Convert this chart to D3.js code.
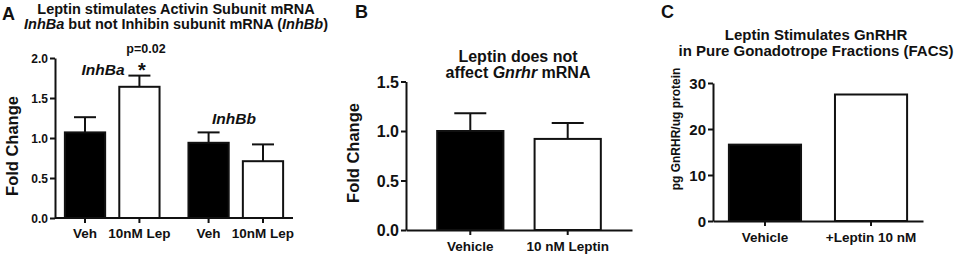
<!DOCTYPE html>
<html>
<head>
<meta charset="utf-8">
<script src="https://cdn.jsdelivr.net/npm/d3@7"></script>
<style>
  body { margin: 0; background: #fff; }
  svg text { font-family: "Liberation Sans", Arial, sans-serif; font-weight: bold; fill: #111; }
  .axis path, .axis line { stroke: #111; stroke-width: 2px; }
</style>
</head>
<body>
<div id="chart"></div>
<script>
// panel A
var groupsA = ["InhBa", "InhBb"];
var treatA = ["Veh", "10nM Lep"];
var meanA = [[1.07, 1.64], [0.94, 0.71]];
var semA = [[0.19, 0.14], [0.13, 0.21]];
var ticksA = [0, 0.5, 1.0, 1.5, 2.0];

// panel B
var catB = ["Vehicle", "10 nM Leptin"];
var meanB = [1.0, 0.92];
var semB = [0.18, 0.16];
var ticksB = [0, 0.5, 1.0, 1.5];

// panel C
var catC = ["Vehicle", "+Leptin 10 nM"];
var valC = [16.6, 27.5];
var ticksC = [0, 10, 20, 30];

var fills = ["#000", "#fff"];

var svg = d3.select("#chart").append("svg")
    .attr("width", 962)
    .attr("height", 259);

function yAxis(g, y, ticks, fmt, size) {
    var ax = g.append("g").attr("class", "axis")
        .call(d3.axisLeft(y).tickValues(ticks).tickFormat(fmt).tickSize(5).tickPadding(2).tickSizeOuter(0));
    ax.selectAll("text").style("font-size", size + "px").attr("dy", "0.36em");
    return ax;
}

function xAxis(g, x, y0, size, pad) {
    var ax = g.append("g").attr("class", "axis")
        .attr("transform", "translate(0," + y0 + ")")
        .call(d3.axisBottom(x).tickSize(5).tickPadding(pad).tickSizeOuter(0));
    ax.selectAll("text").style("font-size", size + "px");
    return ax;
}

function errBar(g, cx, yTop, yErr, cap) {
    g.append("line").attr("x1", cx).attr("x2", cx).attr("y1", yTop).attr("y2", yErr)
        .attr("stroke", "#111").attr("stroke-width", 2);
    g.append("line").attr("x1", cx - cap / 2).attr("x2", cx + cap / 2).attr("y1", yErr).attr("y2", yErr)
        .attr("stroke", "#111").attr("stroke-width", 2);
}

function bar(g, x, w, y, v, fill) {
    g.append("rect")
        .attr("x", x).attr("width", w)
        .attr("y", y(v)).attr("height", y(0) - y(v))
        .attr("fill", fill)
        .attr("stroke", "#111").attr("stroke-width", 2);
}

// ---------- A ----------
var gA = svg.append("g");
var yA = d3.scaleLinear().domain([0, 2]).range([218, 58]);
var xA = d3.scaleBand().domain(groupsA).range([55, 293]).paddingInner(0.234).paddingOuter(0.08);
var xA2 = d3.scaleBand().domain(treatA).range([0, xA.bandwidth()]).paddingInner(0.26);

var centersA = [];
groupsA.forEach(function(gr, gi) {
    treatA.forEach(function(t, ti) {
        var x0 = xA(gr) + xA2(t);
        var cx = x0 + xA2.bandwidth() / 2;
        centersA.push(cx);
        errBar(gA, cx, yA(meanA[gi][ti]), yA(meanA[gi][ti] + semA[gi][ti]), 22);
        bar(gA, x0, xA2.bandwidth(), yA, meanA[gi][ti], fills[ti]);
    });
});

// x axis: one tick under every bar
var axA = gA.append("g").attr("class", "axis").attr("transform", "translate(0,218)");
axA.append("line").attr("x1", 55).attr("x2", 293).attr("y1", 0).attr("y2", 0);
axA.selectAll(".tk").data(centersA).enter().append("line")
    .attr("x1", function(d) { return d; }).attr("x2", function(d) { return d; })
    .attr("y1", 0).attr("y2", 5);
axA.selectAll(".lb").data(centersA).enter().append("text")
    .attr("x", function(d) { return d; }).attr("y", 20)
    .attr("text-anchor", "middle").style("font-size", "13.5px")
    .text(function(d, i) { return treatA[i % 2]; });

yAxis(gA, yA, ticksA, d3.format(".1f"), 12).attr("transform", "translate(55,0)");

gA.append("text").attr("x", 2).attr("y", 20).style("font-size", "18px").text("A");
gA.append("text").attr("x", 176).attr("y", 14).attr("text-anchor", "middle").style("font-size", "14.5px")
    .text("Leptin stimulates Activin Subunit mRNA");
var t2 = gA.append("text").attr("x", 176).attr("y", 29).attr("text-anchor", "middle").style("font-size", "14.5px");
t2.append("tspan").style("font-style", "italic").text("InhBa");
t2.append("tspan").text(" but not Inhibin subunit mRNA (");
t2.append("tspan").style("font-style", "italic").text("InhBb");
t2.append("tspan").text(")");

gA.append("text").attr("transform", "translate(18,146) rotate(-90)").attr("text-anchor", "middle")
    .style("font-size", "16.5px").text("Fold Change");

gA.append("text").attr("x", 103).attr("y", 75).attr("text-anchor", "middle")
    .style("font-size", "15.5px").style("font-style", "italic").text("InhBa");
gA.append("text").attr("x", 146).attr("y", 53).attr("text-anchor", "middle")
    .style("font-size", "12.5px").text("p=0.02");
gA.append("text").attr("x", 142).attr("y", 77).attr("text-anchor", "middle")
    .style("font-size", "20px").text("*");
gA.append("text").attr("x", 234).attr("y", 124).attr("text-anchor", "middle")
    .style("font-size", "15.5px").style("font-style", "italic").text("InhBb");

// ---------- B ----------
var gB = svg.append("g");
var yB = d3.scaleLinear().domain([0, 1.5]).range([230, 81.5]);
var xB = d3.scaleBand().domain(catB).range([406, 632]).padding(0.32);

catB.forEach(function(c, i) {
    var cx = xB(c) + xB.bandwidth() / 2;
    errBar(gB, cx, yB(meanB[i]), yB(meanB[i] + semB[i]), 32);
    bar(gB, xB(c), xB.bandwidth(), yB, meanB[i], fills[i]);
});
xAxis(gB, xB, 230, 13.5, 6);
yAxis(gB, yB, ticksB, d3.format(".1f"), 16).attr("transform", "translate(406,0)");

gB.append("text").attr("x", 355).attr("y", 18).style("font-size", "18px").text("B");
gB.append("text").attr("x", 518).attr("y", 62).attr("text-anchor", "middle").style("font-size", "16px")
    .text("Leptin does not");
var tB = gB.append("text").attr("x", 518).attr("y", 78).attr("text-anchor", "middle").style("font-size", "16px");
tB.append("tspan").text("affect ");
tB.append("tspan").style("font-style", "italic").text("Gnrhr");
tB.append("tspan").text(" mRNA");
gB.append("text").attr("transform", "translate(359,153) rotate(-90)").attr("text-anchor", "middle")
    .style("font-size", "16.5px").text("Fold Change");

// ---------- C ----------
var gC = svg.append("g");
var yC = d3.scaleLinear().domain([0, 30]).range([221, 83]);
var xC = d3.scaleBand().domain(catC).range([713, 923]).paddingInner(0.32).paddingOuter(0.15);

catC.forEach(function(c, i) {
    bar(gC, xC(c), xC.bandwidth(), yC, valC[i], fills[i]);
});
xAxis(gC, xC, 221, 13.5, 6);
yAxis(gC, yC, ticksC, d3.format("d"), 15).attr("transform", "translate(713,0)");

gC.append("text").attr("x", 661).attr("y", 18).style("font-size", "18px").text("C");
gC.append("text").attr("x", 816).attr("y", 40).attr("text-anchor", "middle").style("font-size", "15px")
    .text("Leptin Stimulates GnRHR");
gC.append("text").attr("x", 816).attr("y", 56).attr("text-anchor", "middle").style("font-size", "15px")
    .text("in Pure Gonadotrope Fractions (FACS)");
gC.append("text").attr("transform", "translate(680,129) rotate(-90)").attr("text-anchor", "middle")
    .style("font-size", "12px").text("pg GnRHR/ug protein");
</script>
</body>
</html>
